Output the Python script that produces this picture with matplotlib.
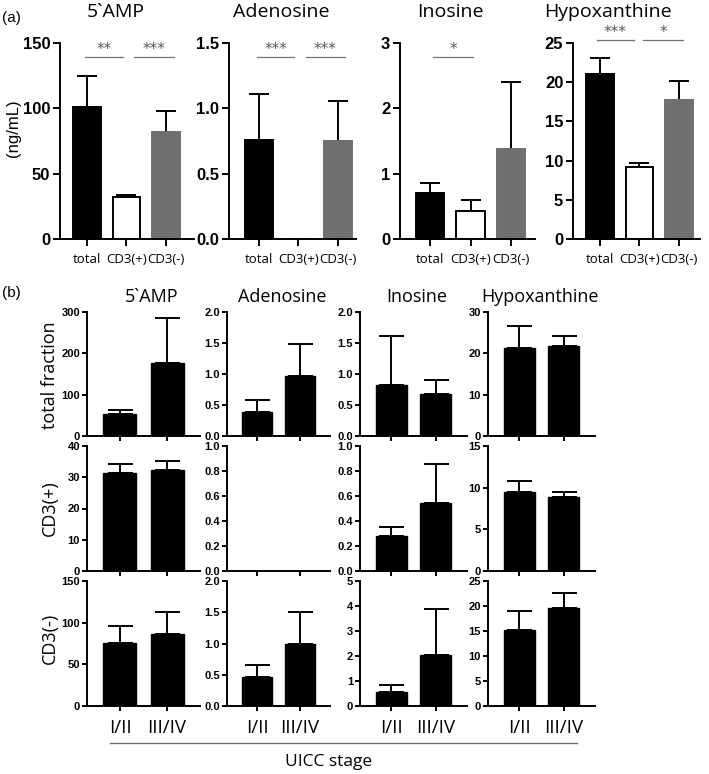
import numpy as np
import matplotlib
matplotlib.use("Agg")
import matplotlib.pyplot as plt

# ---- data: panel (a) ----
a_titles = ["5`AMP", "Adenosine", "Inosine", "Hypoxanthine"]
a_groups = ["total", "CD3(+)", "CD3(-)"]
a_means = [[100.7, 31.8, 81.6],
           [0.76, 0.0, 0.75],
           [0.705, 0.424, 1.375],
           [21.0, 9.15, 17.7]]
a_err = [[24.3, 2.0, 16.3],
         [0.35, 0.0, 0.305],
         [0.148, 0.174, 1.025],
         [2.1, 0.6, 2.4]]
a_ymax = [150, 1.5, 3, 25]
a_ystep = [50, 0.5, 1, 5]
# significance marks: (panel, x from, x to, y, label)
a_sig = [(0, -0.05, 0.92, 139, "**"), (0, 1.18, 2.2, 139, "***"),
         (1, -0.06, 0.9, 1.39, "***"), (1, 1.18, 2.19, 1.39, "***"),
         (2, 0.07, 1.07, 2.78, "*"),
         (3, -0.08, 0.86, 25.4, "***"), (3, 1.1, 2.1, 25.4, "*")]

# ---- data: panel (b) ----
b_titles = ["5`AMP", "Adenosine", "Inosine", "Hypoxanthine"]
b_rows = ["total fraction", "CD3(+)", "CD3(-)"]
b_stages = ["I/II", "III/IV"]
b_means = [[[53, 177], [0.387, 0.97], [0.83, 0.68], [21.2, 21.8]],
           [[31.5, 32.4], [0.0, 0.0], [0.28, 0.546], [9.5, 8.9]],
           [[75.6, 86.8], [0.46, 0.987], [0.56, 2.05], [15.3, 19.7]]]
b_err = [[[10, 108], [0.2, 0.51], [0.79, 0.23], [5.4, 2.5]],
         [[2.9, 2.9], [0.0, 0.0], [0.072, 0.31], [1.3, 0.6]],
         [[20, 26], [0.196, 0.52], [0.29, 1.83], [3.8, 3.0]]]
b_ymax = [[300, 2.0, 2.0, 30], [40, 1.0, 1.0, 15], [150, 2.0, 5, 25]]
b_ystep = [[100, 0.5, 0.5, 10], [10, 0.2, 0.2, 5], [50, 0.5, 1, 5]]

W, H = 709, 774
fig = plt.figure(figsize=(W / 100, H / 100), dpi=100)
TXT = "Open Sans"
NUM = "Liberation Sans"


def add_ax(x0, x1, ytop, ybot):
    return fig.add_axes([x0 / W, 1 - ybot / H, (x1 - x0) / W, (ybot - ytop) / H])


def style(ax, fs, tl=4, pad=2):
    for s in ["top", "right"]:
        ax.spines[s].set_visible(False)
    for s in ["left", "bottom"]:
        ax.spines[s].set_linewidth(1.4)
    ax.tick_params(direction="out", length=tl, width=1.4, pad=pad)
    for lab in ax.get_yticklabels():
        lab.set_fontfamily(NUM)
        lab.set_fontweight("bold")
        lab.set_fontsize(fs)


def draw_err(ax, x, m, e, cap):
    for xi, mi, ei in zip(x, m, e):
        if mi > 0:
            ax.errorbar(xi, mi, yerr=[[0], [ei]], fmt="none", ecolor="black",
                        elinewidth=1.4, capsize=cap, capthick=1.4, zorder=1)


# ---- panel (a) ----
a_box = [(60, 194), (229, 356), (400, 535), (573, 700)]
a_xlim = [(-0.68, 2.71), (-0.76, 2.46), (-0.75, 2.6), (-0.68, 2.53)]
a_title_x = [116, 281, 450, 608]
a_colors = ["black", "white", "#6f6f6f"]
a_edges = ["black", "black", "#6f6f6f"]
a_axes = []
for k in range(4):
    ax = add_ax(a_box[k][0], a_box[k][1], 43, 239)
    x = np.arange(3)
    ax.bar(x, a_means[k], 0.7, color=a_colors, edgecolor=a_edges, linewidth=1.4, zorder=2)
    draw_err(ax, x, a_means[k], a_err[k], 7)
    ax.set_xlim(*a_xlim[k])
    ax.set_ylim(0, a_ymax[k])
    ax.set_yticks(np.arange(0, a_ymax[k] + a_ystep[k] / 2, a_ystep[k]))
    ax.set_xticks(x)
    ax.set_xticklabels(a_groups, fontfamily=TXT, fontsize=9.5)
    style(ax, 12, tl=5, pad=2)
    ax.tick_params(axis="x", pad=5)
    fig.text(a_title_x[k] / W, 1 - 12 / H, a_titles[k], fontfamily=TXT, fontsize=14,
             ha="center", va="center")
    a_axes.append(ax)

for k, x0, x1, y, lab in a_sig:
    ax = a_axes[k]
    ax.plot([x0, x1], [y, y], color="#707070", lw=0.9, clip_on=False)
    ax.text((x0 + x1) / 2, y, lab, ha="center", va="bottom", fontsize=11,
            color="#555555", fontfamily="DejaVu Sans")

fig.text(13 / W, 1 - 128 / H, "(ng/mL)", rotation=90, fontfamily=NUM, fontsize=12,
         ha="center", va="center")
fig.text(2 / W, 1 - 18 / H, "(a)", fontfamily=NUM, fontsize=11, ha="left", va="center")

# ---- panel (b) ----
b_box = [(87, 200), (227, 330), (360, 467), (488, 595)]
b_yrow = [(312, 436), (446, 571), (581, 706)]
b_title_x = [152, 282, 417, 540]
b_row_y = [375, 508, 638]
for r in range(3):
    for c in range(4):
        ax = add_ax(b_box[c][0], b_box[c][1], b_yrow[r][0], b_yrow[r][1])
        x = np.arange(2)
        ax.bar(x, b_means[r][c], 0.7, color="black", edgecolor="black", zorder=2)
        draw_err(ax, x, b_means[r][c], b_err[r][c], 9)
        ax.set_xlim(-0.7, 1.7)
        ax.set_ylim(0, b_ymax[r][c])
        ax.set_yticks(np.arange(0, b_ymax[r][c] + b_ystep[r][c] / 2, b_ystep[r][c]))
        ax.set_xticks(x)
        if r == 2:
            ax.set_xticklabels(b_stages, fontfamily=TXT, fontsize=13.5)
        else:
            ax.set_xticklabels([])
        style(ax, 8, tl=3.5, pad=1.5)
        if r == 2:
            ax.tick_params(axis="x", pad=6)
    fig.text(50 / W, 1 - b_row_y[r] / H, b_rows[r], rotation=90, fontfamily=TXT,
             fontsize=13, ha="center", va="center")

for c in range(4):
    fig.text(b_title_x[c] / W, 1 - 297 / H, b_titles[c], fontfamily=TXT, fontsize=13,
             ha="center", va="center")

fig.text(2 / W, 1 - 293 / H, "(b)", fontfamily=NUM, fontsize=11, ha="left", va="center")
fig.add_artist(plt.Line2D([110 / W, 577 / W], [1 - 743 / H, 1 - 743 / H],
                          color="#707070", lw=1.0))
fig.text(329 / W, 1 - 762 / H, "UICC stage", fontfamily=TXT, fontsize=12.5,
         ha="center", va="center")

fig.savefig("out.png", dpi=100)
